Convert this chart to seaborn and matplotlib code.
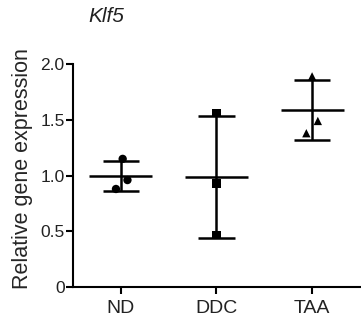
import numpy as np
import pandas as pd
import matplotlib
matplotlib.use("Agg")
import matplotlib.pyplot as plt
import seaborn as sns

# Data
groups = ["ND", "DDC", "TAA"]
nd_values = [1.15, 0.88, 0.96]
ddc_values = [1.56, 0.93, 0.47]
taa_values = [1.89, 1.49, 1.38]
nd_jitter = [0.02, -0.05, 0.07]
ddc_jitter = [0.0, 0.0, 0.0]
taa_jitter = [0.0, 0.06, -0.06]
y_ticks = [0, 0.5, 1.0, 1.5, 2.0]
y_tick_labels = ["0", "0.5", "1.0", "1.5", "2.0"]
title = "Klf5"
y_label = "Relative gene expression"

sns.set_theme(style="ticks")
plt.rcParams["font.family"] = ["Liberation Sans", "DejaVu Sans"]

values = [nd_values, ddc_values, taa_values]
jitters = [nd_jitter, ddc_jitter, taa_jitter]
rows = []
for i, (g, vals, jit) in enumerate(zip(groups, values, jitters)):
    for v, j in zip(vals, jit):
        rows.append({"group": g, "x": i + j, "value": v})
df = pd.DataFrame(rows)

fig = plt.figure(figsize=(3.61, 3.27), dpi=100)
ax = fig.add_axes([0.202, 0.122, 0.795, 0.682])

sns.scatterplot(data=df, x="x", y="value", style="group",
                markers={"ND": "o", "DDC": "s", "TAA": "^"},
                color="black", s=36, edgecolor="black", linewidth=0,
                legend=False, ax=ax, zorder=3)

lw = 1.8
for i, vals in enumerate(values):
    m = np.mean(vals)
    sd = np.std(vals, ddof=1)
    ax.hlines(m, i - 0.33, i + 0.33, color="black", lw=lw, zorder=2)
    ax.hlines([m - sd, m + sd], i - 0.19, i + 0.19, color="black", lw=lw, zorder=2)
    ax.vlines(i, m - sd, m + sd, color="black", lw=lw, zorder=2)

ax.set_xlim(-0.5, 2.5)
ax.set_ylim(0, 2.0)
ax.set_xticks(range(len(groups)))
ax.set_xticklabels(groups, fontsize=14)
ax.set_yticks(y_ticks)
ax.set_yticklabels(y_tick_labels, fontsize=12.5)
ax.set_xlabel("")
ax.set_ylabel(y_label, fontsize=15.5)
ax.yaxis.set_label_coords(-0.14, 0.53)
ax.tick_params(axis="both", length=5, width=1.5, color="black", labelcolor="#222222")
ax.tick_params(axis="y", pad=1)
ax.tick_params(axis="x", pad=4)
for side in ["top", "right"]:
    ax.spines[side].set_visible(False)
for side in ["left", "bottom"]:
    ax.spines[side].set_linewidth(1.5)
    ax.spines[side].set_color("black")
ax.set_facecolor("white")
fig.patch.set_facecolor("white")

fig.text(88 / 361, 1 - 17 / 327, title, fontsize=15, style="italic",
         ha="left", va="center", color="#222222")

fig.savefig("out.png", dpi=100)
